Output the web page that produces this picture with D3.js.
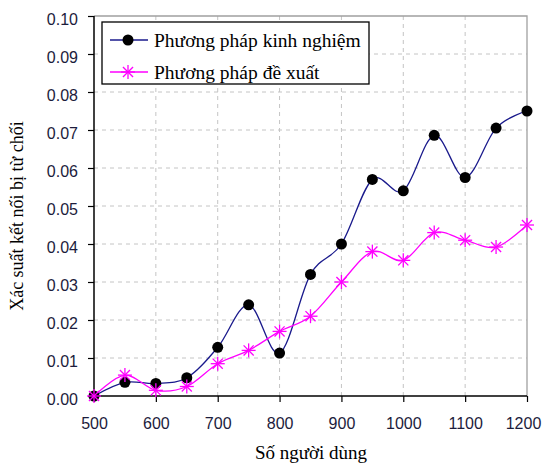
<!DOCTYPE html>
<html>
<head>
<meta charset="utf-8">
<script src="https://cdn.jsdelivr.net/npm/d3@7"></script>
<style>
  body { margin: 0; background: #fff; }
  .tick text { font-family: "Liberation Sans", Arial, sans-serif; font-size: 16px; fill: #1c1c3c; }
</style>
</head>
<body>
<div class="viz-container"></div>
<script>
// data
let users = [500, 550, 600, 650, 700, 750, 800, 850, 900, 950, 1000, 1050, 1100, 1150, 1200];
let kinhNghiem = [0.0000, 0.0036, 0.0033, 0.0048, 0.0128, 0.0240, 0.0113, 0.0320, 0.0400, 0.0570, 0.0540, 0.0686, 0.0575, 0.0705, 0.0750];
let deXuat = [0.0000, 0.0055, 0.0015, 0.0025, 0.0085, 0.0120, 0.0170, 0.0210, 0.0300, 0.0380, 0.0357, 0.0430, 0.0410, 0.0392, 0.0450];
let xTicks = [500, 600, 700, 800, 900, 1000, 1100, 1200];
let yTicks = [0, 0.01, 0.02, 0.03, 0.04, 0.05, 0.06, 0.07, 0.08, 0.09, 0.10];
let seriesNames = ["Phương pháp kinh nghiệm", "Phương pháp đề xuất"];

let viz = d3.select(".viz-container")
  .append("svg")
    .attr("width", 542)
    .attr("height", 466);

let x = d3.scaleLinear().domain([500, 1200]).range([94, 527]);
let y = d3.scaleLinear().domain([0, 0.10]).range([396, 16]);

// grid
viz.append("g").selectAll("line").data(xTicks.slice(1, -1)).enter()
  .append("line")
    .attr("x1", d => x(d)).attr("x2", d => x(d))
    .attr("y1", y(0.10)).attr("y2", y(0))
    .attr("stroke", "#c4c4c4").attr("stroke-dasharray", "4,4");
viz.append("g").selectAll("line").data(yTicks.slice(1, -1)).enter()
  .append("line")
    .attr("x1", x(500)).attr("x2", x(1200))
    .attr("y1", d => y(d)).attr("y2", d => y(d))
    .attr("stroke", "#c4c4c4").attr("stroke-dasharray", "4,4");

// frame top/right
viz.append("path")
  .attr("d", `M${x(500)},${y(0.10)}H${x(1200)}V${y(0)}`)
  .attr("fill", "none").attr("stroke", "#a0a0a0").attr("stroke-width", 1.3);

// axes
let xAxis = viz.append("g")
  .attr("transform", `translate(0,${y(0)})`)
  .call(d3.axisBottom(x).tickValues(xTicks).tickSize(6).tickPadding(16).tickFormat(d3.format("d")));
let yAxis = viz.append("g")
  .attr("transform", `translate(${x(500)},0)`)
  .call(d3.axisLeft(y).tickValues(yTicks).tickSize(6).tickPadding(10).tickFormat(d3.format(".2f")));
[xAxis, yAxis].forEach(a => {
  a.select(".domain").attr("stroke", "#000").attr("stroke-width", 1.5);
  a.selectAll(".tick line").attr("stroke", "#000").attr("stroke-width", 1.2);
});
xAxis.select(".domain").attr("d", `M${x(500)},0H${x(1200)}`);
yAxis.select(".domain").attr("d", `M0,${y(0)}V${y(0.10)}`);
yAxis.selectAll(".tick text").attr("dy", "0.5em");
// last label sits against the right edge
xAxis.selectAll(".tick text").filter(d => d == 1200).attr("dx", -4);

// lines
let line1 = d3.line().x((d, i) => x(users[i])).y(d => y(d)).curve(d3.curveCardinal.tension(0));

viz.append("path").datum(kinhNghiem)
  .attr("d", line1).attr("fill", "none").attr("stroke", "#1a1a8c").attr("stroke-width", 1.3);
viz.append("path").datum(deXuat)
  .attr("d", line1).attr("fill", "none").attr("stroke", "#ff00ff").attr("stroke-width", 1.3);

function star(g, cx, cy) {
  let r = 7;
  let s = g.append("g").attr("stroke", "#ff00ff").attr("stroke-width", 1.3);
  [[r, 0], [0, r], [r * 0.72, r * 0.72], [r * 0.72, -r * 0.72]].forEach(p => {
    s.append("line")
      .attr("x1", cx - p[0]).attr("y1", cy - p[1])
      .attr("x2", cx + p[0]).attr("y2", cy + p[1]);
  });
}

viz.append("g").selectAll("circle").data(kinhNghiem).enter()
  .append("circle")
    .attr("cx", (d, i) => x(users[i]))
    .attr("cy", d => y(d))
    .attr("r", 5.5)
    .attr("fill", "#000");

let stars = viz.append("g");
deXuat.forEach((d, i) => star(stars, x(users[i]), y(d)));

// legend
let lg = viz.append("g");
lg.append("rect").attr("x", 102).attr("y", 22).attr("width", 267).attr("height", 62)
  .attr("fill", "#fff").attr("stroke", "#000").attr("stroke-width", 1.3);
lg.append("line").attr("x1", 110).attr("x2", 148).attr("y1", 40).attr("y2", 40)
  .attr("stroke", "#1a1a8c").attr("stroke-width", 1.3);
lg.append("circle").attr("cx", 128).attr("cy", 40).attr("r", 5.5).attr("fill", "#000");
lg.append("line").attr("x1", 110).attr("x2", 148).attr("y1", 72).attr("y2", 72)
  .attr("stroke", "#ff00ff").attr("stroke-width", 1.3);
star(lg, 128, 72);
seriesNames.forEach((n, i) => {
  lg.append("text")
    .attr("x", 154).attr("y", 47 + i * 32)
    .attr("font-family", "'Liberation Serif', 'Times New Roman', serif")
    .attr("font-size", 19.5)
    .attr("fill", "#000")
    .text(n);
});

// axis titles
viz.append("text")
  .attr("x", 311).attr("y", 459)
  .attr("text-anchor", "middle")
  .attr("font-family", "'Liberation Serif', 'Times New Roman', serif")
  .attr("font-size", 19)
  .text("Số người dùng");
viz.append("text")
  .attr("transform", "translate(23,216) rotate(-90)")
  .attr("text-anchor", "middle")
  .attr("font-family", "'Liberation Serif', 'Times New Roman', serif")
  .attr("font-size", 18)
  .text("Xác suất kết nối bị từ chối");
</script>
</body>
</html>
